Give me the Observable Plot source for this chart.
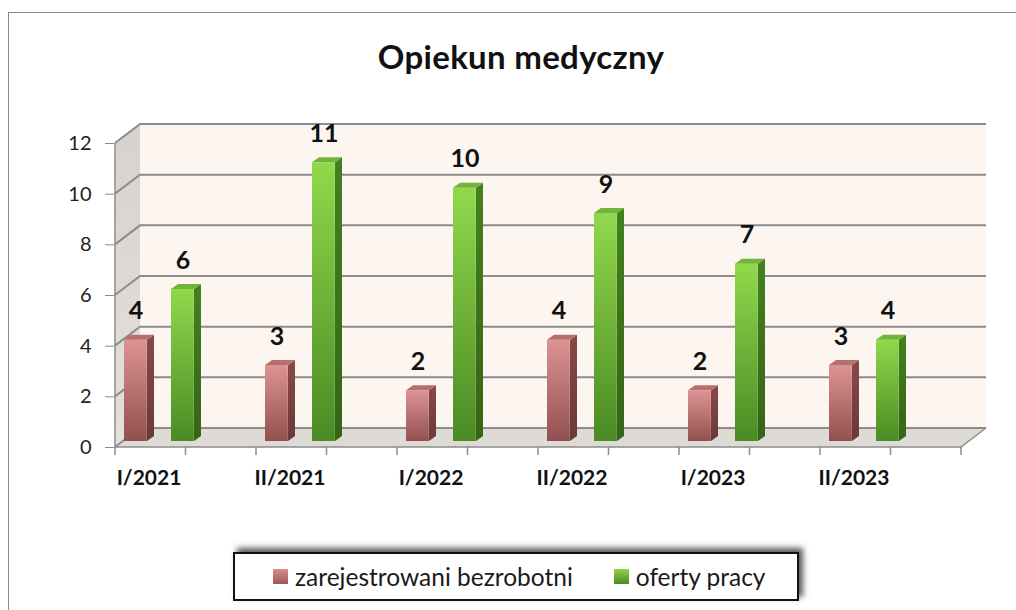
<!DOCTYPE html>
<html><head><meta charset="utf-8">
<script src="https://cdn.jsdelivr.net/npm/d3@7"></script>
<script src="https://cdn.jsdelivr.net/npm/@observablehq/plot@0.6"></script>
<style>
body{margin:0;background:#fff;font-family:Lato,"Open Sans",sans-serif;width:1016px;height:610px;overflow:hidden;position:relative}
#frame{position:absolute;left:8px;top:12px;width:1100px;height:700px;border-top:1px solid #8a8a8a;border-left:1px solid #8a8a8a}
#title{position:absolute;left:0;top:36px;width:1042px;text-align:center;font-weight:bold;font-size:33px;letter-spacing:0.3px;color:#111;line-height:40px}
#chart{position:absolute;left:0;top:90px}
#legend{position:absolute;left:233px;top:552px;width:562px;height:45px;border:2px solid #111;background:#fff;box-shadow:4px -4px 6px rgba(0,0,0,.65);display:flex;align-items:center;font-size:24.5px;color:#1a1a1a;box-sizing:content-box}
#legend .item{display:flex;align-items:center;margin-left:38px}
#legend .item + .item{margin-left:41px}
#legend .sw{width:15px;height:15px;margin-right:7px;display:inline-block}
</style></head>
<body>
<div id="frame"></div>
<div id="title"></div>
<div id="chart"></div>
<div id="legend"></div>
<script>
const titleText = "Opiekun medyczny";
const categories = ["I/2021","II/2021","I/2022","II/2022","I/2023","II/2023"];
const seriesNames = ["zarejestrowani bezrobotni","oferty pracy"];
const unemployed = [4,3,2,4,2,3];
const offers = [6,11,10,9,7,4];
const yTicks = [0,2,4,6,8,10,12];

const W = 1016, H = 420, mL = 114, mR = 55, mT = 53, mB = 63;
const bw = (W - mL - mR) / categories.length;
const wallD = {dx: 25, dy: -19};
const barD = {dx: 7, dy: -5};
const lift = -6;
const slot = [{left: 9, w: 23}, {left: 56, w: 23}];
const colors = [
  {top: "#dc9493", bottom: "#91504f", side: "#7a4241", cap: "#b86e6d", sw0: "#d9908f", sw1: "#9c5655"},
  {top: "#92d84c", bottom: "#4b8a24", side: "#3d741b", cap: "#70b53a", sw0: "#8fd44a", sw1: "#4b8a24"}
];

const rows = categories.flatMap((c, i) => [
  {cat: c, s: 0, series: seriesNames[0], value: unemployed[i]},
  {cat: c, s: 1, series: seriesNames[1], value: offers[i]}
]);

document.getElementById("title").textContent = titleText;

function defs() {
  const g = d3.create("svg:g");
  const d = g.append("defs");
  colors.forEach((c, i) => {
    const lg = d.append("linearGradient").attr("id", "front" + i).attr("x1", 0).attr("y1", 0).attr("x2", 0).attr("y2", 1);
    lg.append("stop").attr("offset", "0%").attr("stop-color", c.top);
    lg.append("stop").attr("offset", "100%").attr("stop-color", c.bottom);
    const sg = d.append("linearGradient").attr("id", "side" + i).attr("x1", 0).attr("y1", 0).attr("x2", 0).attr("y2", 1);
    sg.append("stop").attr("offset", "0%").attr("stop-color", d3.color(c.side).brighter(0.3));
    sg.append("stop").attr("offset", "100%").attr("stop-color", d3.color(c.side).darker(0.4));
  });
  const wg = d.append("linearGradient").attr("id", "wall").attr("x1", 0).attr("y1", 0).attr("x2", 0).attr("y2", 1);
  wg.append("stop").attr("offset", "0%").attr("stop-color", "#d6d3ce");
  wg.append("stop").attr("offset", "100%").attr("stop-color", "#e4e1dc");
  return g.node();
}

function walls(index, {x, y}) {
  const step = x(categories[1]) - x(categories[0]);
  const x0 = x(categories[0]);
  const x1 = x(categories[categories.length - 1]) + step;
  const ya = y(yTicks[0]), yb = y(yTicks[yTicks.length - 1]);
  const g = d3.create("svg:g");
  const P = pts => pts.map(p => p.join(",")).join(" ");
  g.append("polygon").attr("points", P([[x0 + wallD.dx, yb + wallD.dy], [x1 + wallD.dx, yb + wallD.dy], [x1 + wallD.dx, ya + wallD.dy], [x0 + wallD.dx, ya + wallD.dy]])).attr("fill", "#fdf5ef");
  g.append("polygon").attr("points", P([[x0, ya], [x0, yb], [x0 + wallD.dx, yb + wallD.dy], [x0 + wallD.dx, ya + wallD.dy]])).attr("fill", "url(#wall)");
  g.append("polygon").attr("points", P([[x0, ya], [x1, ya], [x1 + wallD.dx, ya + wallD.dy], [x0 + wallD.dx, ya + wallD.dy]])).attr("fill", "#dedbd6");
  for (const t of yTicks) {
    const yy = y(t);
    g.append("polyline").attr("points", P([[x0, yy], [x0 + wallD.dx, yy + wallD.dy], [x1 + wallD.dx, yy + wallD.dy]]))
      .attr("fill", "none").attr("stroke", "#8c8c8c").attr("stroke-width", 2);
  }
  g.append("polyline").attr("points", P([[x0, yb], [x0, ya], [x1, ya], [x1 + wallD.dx, ya + wallD.dy]]))
    .attr("fill", "none").attr("stroke", "#8c8c8c").attr("stroke-width", 1.5);
  for (let i = 0; i <= categories.length * 2; i++) {
    const xx = x0 + i * step / 2;
    g.append("line").attr("x1", xx).attr("x2", xx).attr("y1", ya).attr("y2", ya + 8).attr("stroke", "#8c8c8c").attr("stroke-width", 1.5);
  }
  return g.node();
}

function barFaces(index, {x, y}) {
  const g = d3.create("svg:g");
  const P = pts => pts.map(p => p.join(",")).join(" ");
  for (const r of rows) {
    const xl = x(r.cat) + slot[r.s].left, xr = xl + slot[r.s].w;
    const yt = y(r.value) + lift, yz = y(0) + lift;
    g.append("polygon").attr("points", P([[xr, yt], [xr + barD.dx, yt + barD.dy], [xr + barD.dx, yz + barD.dy], [xr, yz]])).attr("fill", "url(#side" + r.s + ")");
    g.append("polygon").attr("points", P([[xl, yt], [xr, yt], [xr + barD.dx, yt + barD.dy], [xl + barD.dx, yt + barD.dy]])).attr("fill", colors[r.s].cap);
  }
  return g.node();
}

const marks = [defs, walls];
[0, 1].forEach(s => {
  marks.push(Plot.barY(rows.filter(r => r.s === s), {
    x: "cat", y: "value", fill: "url(#front" + s + ")",
    insetLeft: slot[s].left, insetRight: bw - slot[s].left - slot[s].w, dy: lift
  }));
});
marks.push(barFaces);
[0, 1].forEach(s => {
  marks.push(Plot.text(rows.filter(r => r.s === s), {
    x: "cat", y: "value", text: d => String(d.value),
    dx: slot[s].left + slot[s].w / 2 - bw / 2, dy: -35, lineAnchor: "middle",
    fontSize: 25, fontWeight: "bold", fill: "#111"
  }));
});
marks.push(Plot.axisY(yTicks, {tickSize: 9, tickPadding: 14, fontSize: 20, stroke: "#8c8c8c", fill: "#222", label: null}));
marks.push(Plot.axisX({tickSize: 0, tickPadding: 23, dx: -37, fontSize: 21, fontWeight: "bold", fill: "#111", label: null}));

const chart = Plot.plot({
  width: W, height: H,
  marginLeft: mL, marginRight: mR, marginTop: mT, marginBottom: mB,
  x: {type: "band", domain: categories, padding: 0},
  y: {domain: [0, 12]},
  style: {fontFamily: "Lato, 'Open Sans', sans-serif", background: "transparent", overflow: "visible"},
  marks
});
document.getElementById("chart").appendChild(chart);

const legend = document.getElementById("legend");
seriesNames.forEach((name, i) => {
  const it = document.createElement("div");
  it.className = "item";
  const sw = document.createElement("span");
  sw.className = "sw";
  sw.style.background = `linear-gradient(${colors[i].sw0}, ${colors[i].sw1})`;
  it.appendChild(sw);
  it.appendChild(document.createTextNode(name));
  legend.appendChild(it);
});
</script>
</body></html>
